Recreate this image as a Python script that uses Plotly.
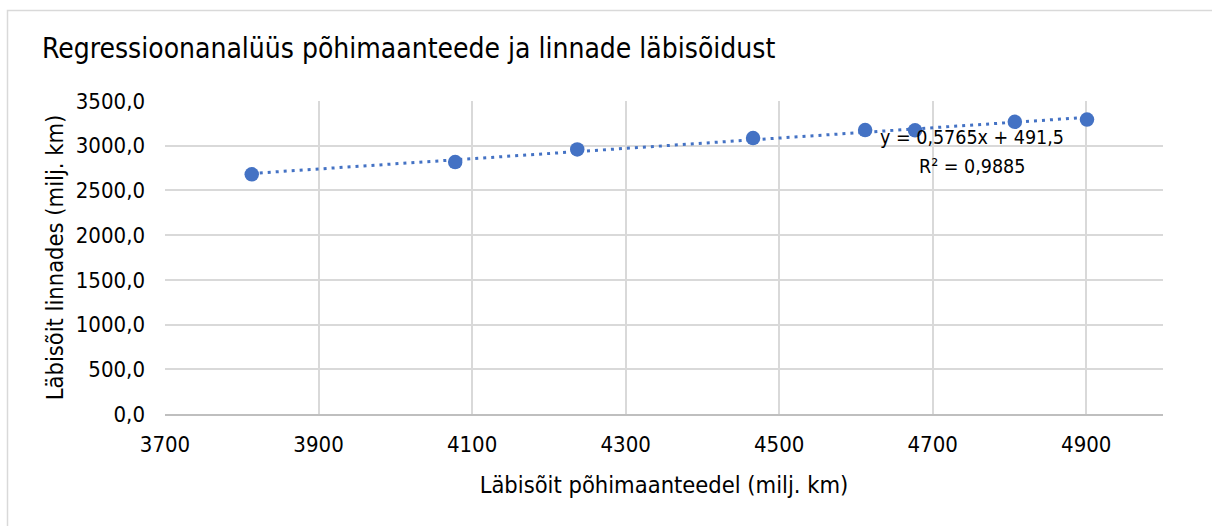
import plotly.graph_objects as go

# Data
roads_x = [3813, 4078, 4237, 4466, 4612, 4677, 4807, 4901]
cities_y = [2680, 2817, 2959, 3085, 3175, 3172, 3267, 3293]
trend_slope = 0.5765
trend_intercept = 491.5
r_squared = 0.9885

title_text = "Regressioonanalüüs põhimaanteede ja linnade läbisõidust"
x_title = "Läbisõit põhimaanteedel (milj. km)"
y_title = "Läbisõit linnades (milj. km)"
x_ticks = [3700, 3900, 4100, 4300, 4500, 4700, 4900]
y_ticks = [0, 500, 1000, 1500, 2000, 2500, 3000, 3500]

FONT = "DejaVu Sans Condensed, Roboto, sans-serif"
BLUE = "#4472C4"

tx = [min(roads_x), max(roads_x)]
ty = [trend_slope * v + trend_intercept for v in tx]

fig = go.Figure()
fig.add_trace(go.Scatter(
    x=tx, y=ty, mode="lines",
    line=dict(color=BLUE, width=3, dash="3px,5px"),
    hoverinfo="skip", showlegend=False,
))
fig.add_trace(go.Scatter(
    x=roads_x, y=cities_y, mode="markers",
    marker=dict(color=BLUE, size=14.5),
    showlegend=False,
))

eq = "y = {:.4f}x + {:.1f}".format(trend_slope, trend_intercept).replace(".", ",")
r2 = "R² = {:.4f}".format(r_squared).replace(".", ",")
fig.add_annotation(x=4751, y=3097, xref="x", yref="y", text=eq, showarrow=False,
                   font=dict(family=FONT, size=19.5, color="#000000"))
fig.add_annotation(x=4751, y=2773, xref="x", yref="y", text=r2, showarrow=False,
                   font=dict(family=FONT, size=19.5, color="#000000"))

L, R, T, B = 165, 1163, 101, 414
W, H = 1212, 526
pw, ph = R - L, B - T
def px(xp):
    return (xp - L) / pw
def py(yp):
    return (B - yp) / ph

# chart-area border (cropped at right and bottom)
fig.add_shape(type="rect", xref="paper", yref="paper",
              x0=px(7.5), x1=px(1260), y0=py(560), y1=py(10.5),
              line=dict(color="#D9D9D9", width=1.5), fillcolor="rgba(0,0,0,0)", layer="below")

fig.update_layout(
    width=W, height=H,
    margin=dict(l=L, r=W - R, t=T, b=H - B),
    paper_bgcolor="white", plot_bgcolor="white",
    separators=", ",
    font=dict(family=FONT, color="#000000"),
    title=dict(text=title_text, x=42 / W, xanchor="left", y=1 - 48 / H, yanchor="middle",
               xref="container", yref="container",
               font=dict(family=FONT, size=28, color="#000000")),
    xaxis=dict(range=[3700, 5000], tickvals=x_ticks, tickformat="d",
               showgrid=True, gridcolor="#D9D9D9", gridwidth=1.5,
               showline=True, linecolor="#BFBFBF", linewidth=1.5,
               zeroline=False, ticks="", ticklabelstandoff=10,
               tickfont=dict(family=FONT, size=22, color="#000000"),
               title=dict(text=x_title, font=dict(family=FONT, size=23.5, color="#000000"), standoff=20)),
    yaxis=dict(range=[0, 3500], tickvals=y_ticks, tickformat=".1f",
               showgrid=True, gridcolor="#D9D9D9", gridwidth=1.5,
               showline=False, zeroline=False, ticks="", ticklabelstandoff=19,
               tickfont=dict(family=FONT, size=22, color="#000000"),
               title=dict(text=y_title, font=dict(family=FONT, size=23.5, color="#000000"), standoff=5)),
)

fig.write_html("out.html", config={"displayModeBar": False},
               post_script="document.body.style.margin='0';")
